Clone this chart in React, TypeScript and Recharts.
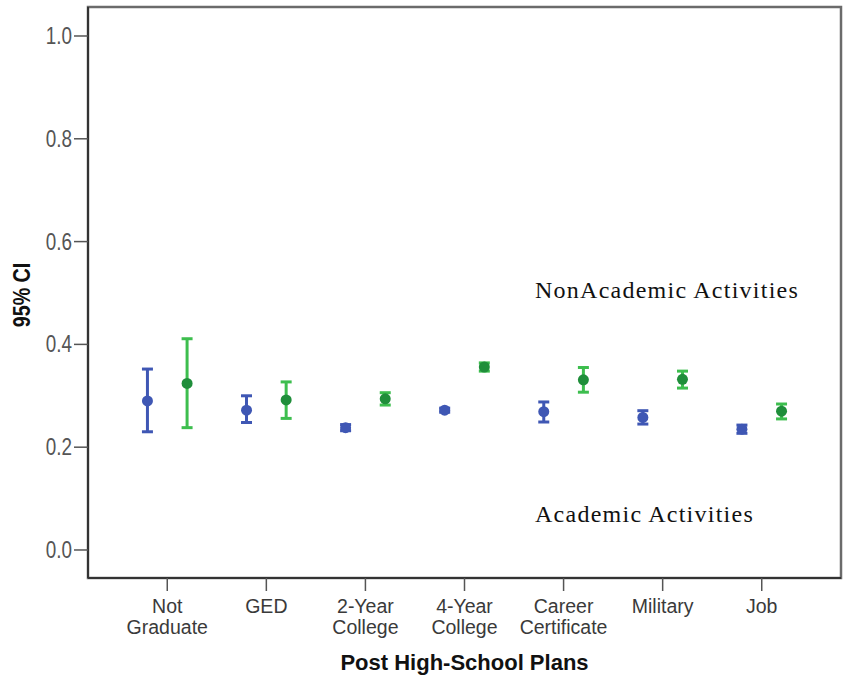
import React from 'react';
import { ComposedChart, Scatter, XAxis, YAxis, ErrorBar, ReferenceArea, Label } from 'recharts';

// Category labels (two lines each where the label wraps)
const planLabels: string[][] = [
  ['Not', 'Graduate'],
  ['GED'],
  ['2-Year', 'College'],
  ['4-Year', 'College'],
  ['Career', 'Certificate'],
  ['Military'],
  ['Job'],
];

// Academic activities: mean and 95% CI bounds
const academicMean = [0.290, 0.272, 0.238, 0.272, 0.269, 0.258, 0.235];
const academicLow = [0.230, 0.248, 0.232, 0.268, 0.249, 0.245, 0.227];
const academicHigh = [0.352, 0.300, 0.244, 0.276, 0.288, 0.271, 0.243];

// Non-academic activities: mean and 95% CI bounds
const nonAcademicMean = [0.324, 0.292, 0.294, 0.356, 0.331, 0.332, 0.270];
const nonAcademicLow = [0.238, 0.256, 0.282, 0.348, 0.307, 0.315, 0.255];
const nonAcademicHigh = [0.411, 0.327, 0.306, 0.364, 0.355, 0.348, 0.284];

const yTicks = [0.0, 0.2, 0.4, 0.6, 0.8, 1.0];

const Y_MIN = -0.0545;
const Y_MAX = 1.0564;
const X_MIN = 0.2;
const X_MAX = 7.8;
const SHIFT = 0.2;

const buildSeries = (mean: number[], low: number[], high: number[], side: number) =>
  mean.map((m, i) => ({
    x: i + 1 + side * SHIFT,
    y: m,
    ci: [m - low[i], high[i] - m],
  }));

const academicData = buildSeries(academicMean, academicLow, academicHigh, -1);
const nonAcademicData = buildSeries(nonAcademicMean, nonAcademicLow, nonAcademicHigh, 1);

const BLUE = '#3f57b4';
const GREEN_BAR = '#3dbe4e';
const GREEN_DOT = '#1f8e3a';

const SANS = '"Liberation Sans", Arial, sans-serif';
const SERIF = '"Liberation Serif", "Times New Roman", serif';
// condensed look for the value axis text
const NARROW = 0.82;

const CategoryTick = (props: any) => {
  const { x, y, payload } = props;
  const lines = planLabels[Math.round(payload.value) - 1] || [];
  return (
    <text x={x} y={y} textAnchor="middle" fill="#3a3a3a" fontSize={19.5} fontFamily={SANS}>
      {lines.map((line, i) => (
        <tspan key={i} x={x} dy={i === 0 ? 20 : 21}>
          {line}
        </tspan>
      ))}
    </text>
  );
};

const ValueTick = (props: any) => {
  const { x, y, payload } = props;
  return (
    <text
      transform={`translate(${x},${y}) scale(${NARROW},1)`}
      x={0}
      y={0}
      dy={8}
      textAnchor="end"
      fill="#555"
      fontSize={23}
      fontFamily={SANS}
    >
      {Number(payload.value).toFixed(1)}
    </text>
  );
};

const dot = (color: string) => (p: any) => <circle cx={p.cx} cy={p.cy} r={5.5} fill={color} />;

const noteStyle: React.CSSProperties = {
  position: 'absolute',
  left: 535,
  fontFamily: SERIF,
  fontSize: 24,
  letterSpacing: 1.25,
  color: '#111',
  whiteSpace: 'nowrap',
  lineHeight: '30px',
};

export default function App() {
  return (
    <div style={{ position: 'absolute', left: 0, top: 0, width: 849, height: 676, background: '#fff' }}>
      <ComposedChart
        width={849}
        height={676}
        margin={{ top: 7, right: 8, bottom: 0, left: 0 }}
      >
        <ReferenceArea
          x1={X_MIN}
          x2={X_MAX}
          y1={Y_MIN}
          y2={Y_MAX}
          fill="none"
          stroke="#6b6b6b"
          strokeWidth={2.5}
          ifOverflow="extendDomain"
        />
        <XAxis
          type="number"
          dataKey="x"
          domain={[X_MIN, X_MAX]}
          ticks={[1, 2, 3, 4, 5, 6, 7]}
          allowDataOverflow
          height={98}
          stroke="#333"
          strokeWidth={2}
          tickSize={13}
          tickLine={{ stroke: '#555', strokeWidth: 1.5 }}
          tick={<CategoryTick />}
        >
          <Label
            content={(p: any) => {
              const vb = p.viewBox;
              return (
                <text
                  x={vb.x + vb.width / 2}
                  y={vb.y + 92}
                  textAnchor="middle"
                  fontSize={22}
                  fontWeight="bold"
                  fill="#111"
                  fontFamily={SANS}
                >
                  Post High-School Plans
                </text>
              );
            }}
          />
        </XAxis>
        <YAxis
          type="number"
          domain={[Y_MIN, Y_MAX]}
          ticks={yTicks}
          allowDataOverflow
          width={88}
          stroke="#333"
          strokeWidth={2}
          tickSize={14}
          tickMargin={2}
          tickLine={{ stroke: '#555', strokeWidth: 1.5 }}
          tick={<ValueTick />}
        >
          <Label
            content={() => {
              const cx = 22;
              const cy = 295;
              return (
                <text
                  transform={`translate(${cx},${cy}) rotate(-90) scale(${NARROW},1)`}
                  x={0}
                  y={0}
                  textAnchor="middle"
                  dominantBaseline="central"
                  fontSize={24}
                  fontWeight="bold"
                  fill="#111"
                  fontFamily={SANS}
                >
                  95% CI
                </text>
              );
            }}
          />
        </YAxis>
        <Scatter
          name="Academic Activities"
          data={academicData}
          dataKey="y"
          fill={BLUE}
          shape={dot(BLUE)}
          isAnimationActive={false}
        >
          <ErrorBar dataKey="ci" direction="y" width={5.5} stroke={BLUE} strokeWidth={3} />
        </Scatter>
        <Scatter
          name="NonAcademic Activities"
          data={nonAcademicData}
          dataKey="y"
          fill={GREEN_DOT}
          shape={dot(GREEN_DOT)}
          isAnimationActive={false}
        >
          <ErrorBar dataKey="ci" direction="y" width={5.5} stroke={GREEN_BAR} strokeWidth={3} />
        </Scatter>
      </ComposedChart>
      <div style={{ ...noteStyle, top: 275 }}>NonAcademic Activities</div>
      <div style={{ ...noteStyle, top: 499 }}>Academic Activities</div>
    </div>
  );
}
